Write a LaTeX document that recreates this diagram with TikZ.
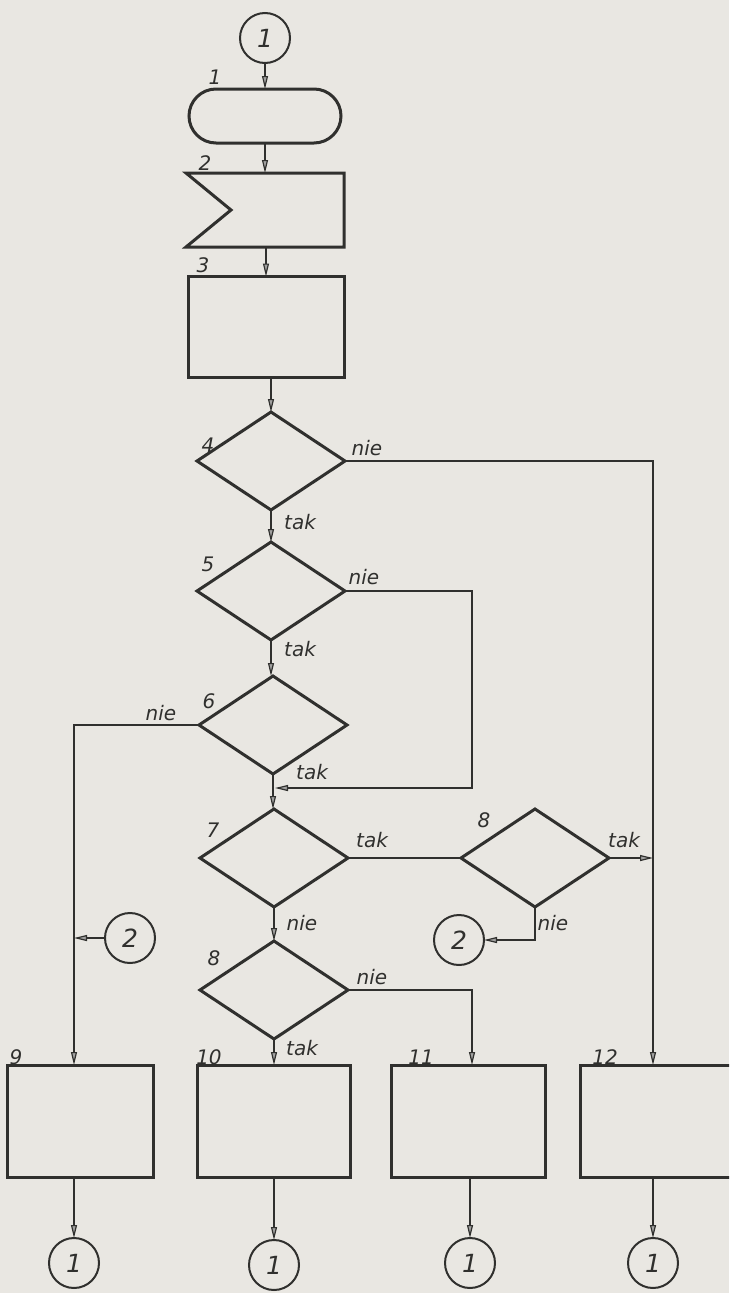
\documentclass[tikz,border=0pt]{standalone}
\usepackage{fontspec}
\setmainfont{DejaVu Sans}
\usetikzlibrary{shapes.geometric, arrows.meta, calc}
\definecolor{paper}{RGB}{233,231,226}
\definecolor{ink}{RGB}{48,48,46}
\begin{document}
\begin{tikzpicture}[x=1pt, y=-1pt,
  every node/.style={inner sep=0pt, outer sep=0pt},
  lbl/.style={font=\fontsize{20}{20}\selectfont\itshape, text=ink},
  conn/.style={circle, draw=ink, line width=2pt, minimum size=50pt,
    font=\fontsize{25}{25}\selectfont\itshape, text=ink},
  procbox/.style={rectangle, draw=ink, line width=3pt},
  decision/.style={diamond, draw=ink, line width=3pt, minimum width=148pt, minimum height=98pt},
  flow/.style={draw=ink, line width=1.3pt},
  arr/.style={flow, -{Triangle[length=13pt, width=6pt, line width=1.2pt, fill=ink!45]}}
]
\clip (0,0) rectangle (729,1293);
\fill[paper] (0,0) rectangle (729,1293);

% helper columns
\coordinate (lx) at (74,0);
\coordinate (mx) at (472,0);
\coordinate (rx) at (653,0);

% top part
\node[conn] (c0) at (265,38) {1};
\node[procbox, rounded corners=27pt, minimum width=152pt, minimum height=54pt] (term) at (265,116) {};
\node[rectangle, minimum width=158pt, minimum height=74pt] (box2) at (265,210) {};
\draw[ink, line width=3pt, line join=miter] (box2.north west) -- (box2.north east) -- (box2.south east)
  -- (box2.south west) -- ($(box2.west)+(45,0)$) -- cycle;
\node[procbox, minimum width=156pt, minimum height=101pt] (box3) at (266,327) {};

% decisions
\node[decision] (d4) at (271,461) {};
\node[decision] (d5) at (271,591) {};
\node[decision] (d6) at (273,725) {};
\node[decision] (d7) at (274,858) {};
\node[decision] (d8r) at (535,858) {};
\node[decision] (d8l) at (274,990) {};

% connectors (continuation)
\node[conn] (c2l) at (130,938) {2};
\node[conn] (c2r) at (459,940) {2};

% bottom boxes
\node[procbox, minimum width=146pt, minimum height=112pt] (box9) at (80,1121) {};
\node[procbox, minimum width=153pt, minimum height=112pt] (box10) at (274,1121) {};
\node[procbox, minimum width=154pt, minimum height=112pt] (box11) at (468,1121) {};
\node[procbox, minimum width=152pt, minimum height=112pt] (box12) at (656,1121) {};

\node[conn] (b9) at (74,1263) {1};
\node[conn] (b10) at (274,1265) {1};
\node[conn] (b11) at (470,1263) {1};
\node[conn] (b12) at (653,1263) {1};

% labels
\node[lbl] at (215,77) {1};
\node[lbl] at (205,163) {2};
\node[lbl] at (203,265) {3};
\node[lbl] at (208,445) {4};
\node[lbl] at (208,564) {5};
\node[lbl] at (209,701) {6};
\node[lbl] at (213,830) {7};
\node[lbl] at (484,820) {8};
\node[lbl] at (214,958) {8};
\node[lbl] at (16,1057) {9};
\node[lbl] at (209,1057) {10};
\node[lbl] at (421,1057) {11};
\node[lbl] at (605,1057) {12};

\node[lbl] at (367,448) {nie};
\node[lbl] at (300,522) {tak};
\node[lbl] at (364,577) {nie};
\node[lbl] at (300,649) {tak};
\node[lbl] at (161,713) {nie};
\node[lbl] at (312,772) {tak};
\node[lbl] at (372,840) {tak};
\node[lbl] at (624,840) {tak};
\node[lbl] at (553,923) {nie};
\node[lbl] at (302,923) {nie};
\node[lbl] at (372,977) {nie};
\node[lbl] at (302,1048) {tak};

% flow lines
\draw[arr] (c0) -- (term);
\draw[arr] (term) -- (box2);
\draw[arr] (box2.south -| box3.north) -- (box3.north);
\draw[arr] (box3.south -| d4.north) -- (d4.north);
\draw[arr] (d4.south) -- (d5.north);
\draw[arr] (d5.south) -- (d5.south |- d6.north);
\draw[arr] (d6.south) -- (d6.south |- d7.north);
\draw[arr] (d7.south) -- (d8l.north);
\draw[arr] (d8l.south) -- (box10.north);

\coordinate (j5) at (472,788);
\coordinate (j5e) at (275,788);
\draw[arr] (d5.east) -| (j5) -- (j5e);

\draw[arr] (d4.east) -| (box12.north -| rx);
\draw[arr] (d6.west) -| (box9.north -| lx);
\draw[arr] (c2l.west) -- (c2l.west -| lx);
\draw[flow] (d7.east) -- (d8r.west);
\draw[arr] (d8r.east) -- (d8r.east -| rx);
\draw[arr] (d8r.south) |- (c2r.east);
\draw[arr] (d8l.east) -| (box11.north -| mx);

\draw[arr] (box9.south -| lx) -- (b9.north);
\draw[arr] (box10.south) -- (b10.north);
\draw[arr] (box11.south -| b11.north) -- (b11.north);
\draw[arr] (box12.south -| b12.north) -- (b12.north);
\end{tikzpicture}
\end{document}
